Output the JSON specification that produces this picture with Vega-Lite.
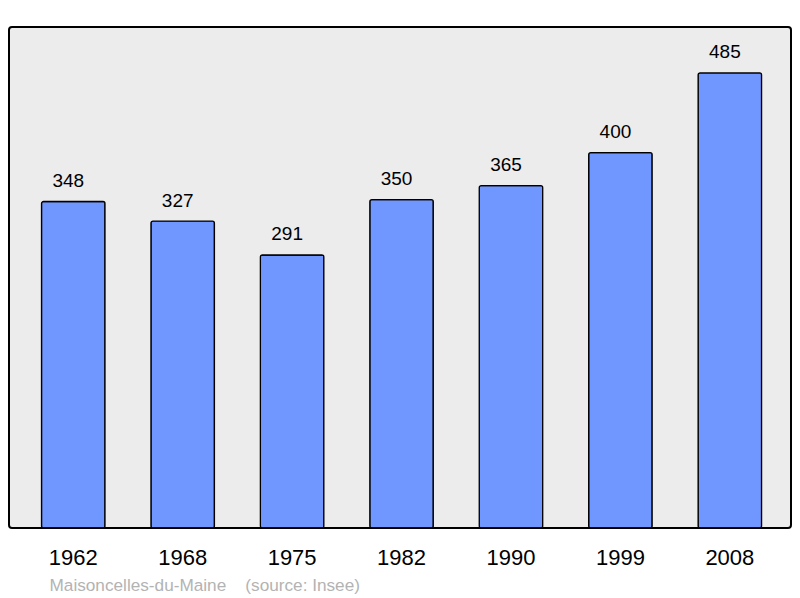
{
  "$schema": "https://vega.github.io/schema/vega-lite/v6.json",
  "description": "Population of Maisoncelles-du-Maine by census year.",
  "autosize": "none",
  "width": 782,
  "height": 501,
  "padding": {"left": 9, "top": 27, "right": 9, "bottom": 70},
  "background": "white",
  "config": {
    "font": "Liberation Sans",
    "view": {"fill": "#ececec", "stroke": "#000000", "strokeWidth": 2, "cornerRadius": 3}
  },
  "data": {
    "values": [
      {"year": "1962", "population": 348},
      {"year": "1968", "population": 327},
      {"year": "1975", "population": 291},
      {"year": "1982", "population": 350},
      {"year": "1990", "population": 365},
      {"year": "1999", "population": 400},
      {"year": "2008", "population": 485}
    ]
  },
  "encoding": {
    "x": {
      "field": "year",
      "type": "ordinal",
      "scale": {"paddingInner": 0.42, "paddingOuter": 0.283, "align": 0.525},
      "axis": {
        "domain": false,
        "ticks": false,
        "tickSize": 0,
        "labelAngle": 0,
        "labelFontSize": 22,
        "labelColor": "#000000",
        "labelBaseline": "alphabetic",
        "labelPadding": 36,
        "title": "Maisoncelles-du-Maine\u00a0\u00a0\u00a0\u00a0(source: Insee)",
        "titleFontSize": 17.2,
        "titleFontWeight": "normal",
        "titleColor": "#b3b3b3",
        "titleAlign": "left",
        "titleAnchor": "start",
        "titleBaseline": "alphabetic",
        "titleX": 40,
        "titleY": 62
      }
    },
    "y": {
      "field": "population",
      "type": "quantitative",
      "scale": {"domain": [0, 534], "nice": false},
      "axis": null
    }
  },
  "layer": [
    {
      "mark": {"type": "bar", "fill": "#7096ff", "stroke": "#000000", "strokeWidth": 1.3, "cornerRadius": 2}
    },
    {
      "mark": {"type": "text", "fontSize": 19, "color": "#000000", "baseline": "alphabetic", "dx": -5, "dy": -14.5},
      "encoding": {"text": {"field": "population", "type": "quantitative"}}
    }
  ]
}
